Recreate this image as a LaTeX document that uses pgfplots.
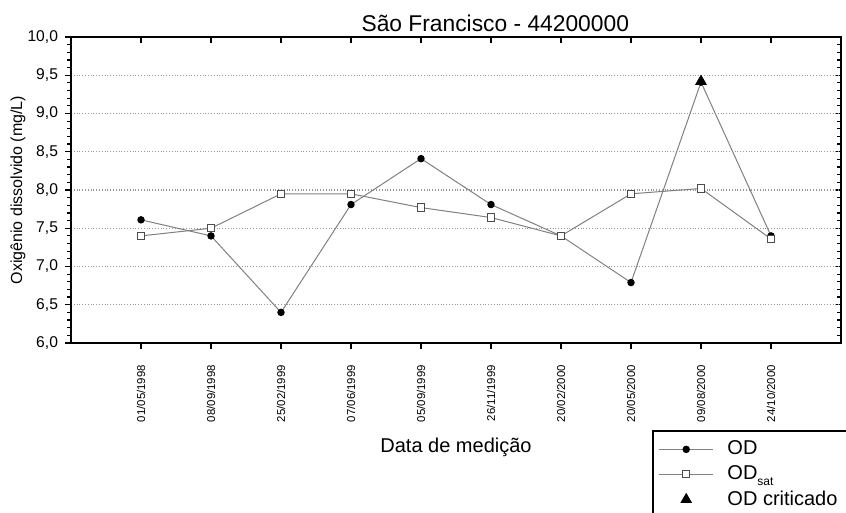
\documentclass[border=0pt]{standalone}
\usepackage{pgfplots}
\pgfplotsset{compat=1.18}
\usepackage{fontspec}
\setmainfont{Liberation Sans}

\begin{document}
\begin{tikzpicture}
\useasboundingbox (0,0) rectangle (423pt,256.5pt);
\pgfplotsset{
  common/.style={
    scale only axis, width=385pt, height=153pt,
    at={(35.5pt,85pt)}, anchor=south west,
    xmin=0, xmax=11, ymin=6, ymax=10,
    xtick={1,...,10}, ytick={6,6.5,...,10}, minor y tick num=4,
    axis line style={line width=0.9pt},
    major tick length=3pt, minor tick length=1.8pt,
    every tick/.style={black, line width=0.6pt},
  }
}
\begin{axis}[common, xtick pos=top, ytick pos=right, tick align=inside,
  xticklabels={}, yticklabels={}]
\end{axis}
\begin{axis}[common, xtick pos=bottom, ytick pos=left, tick align=outside,
  ymajorgrids, grid style={densely dotted, gray!80, line width=0.6pt},
  /pgf/number format/assume math mode=true,
  yticklabel style={/pgf/number format/.cd, use comma, fixed, fixed zerofill, precision=1},
  ticklabel style={font=\fontsize{7.8}{9}\selectfont},
  xticklabels={01/05/1998, 08/09/1998, 25/02/1999, 07/06/1999, 05/09/1999, 26/11/1999, 20/02/2000, 20/05/2000, 09/08/2000, 24/10/2000},
  xticklabel style={rotate=90, anchor=east, xshift=-4.5pt, font=\fontsize{5.7}{7}\selectfont},
  every axis title shift=0pt,
  title={São Francisco - 44200000},
  title style={at={(axis description cs:0.551,1.017)}, anchor=base, font=\fontsize{11.4}{13}\selectfont},
  xlabel={Data de medição},
  xlabel style={at={(axis description cs:0.5,-0.34)}, anchor=center, font=\fontsize{10}{12}\selectfont},
  ylabel={Oxigênio dissolvido (mg/L)},
  ylabel style={at={(axis description cs:-0.069,0.5)}, anchor=center, rotate=0, font=\fontsize{8}{10}\selectfont},
  legend style={at={(axis description cs:0.7545,-0.284)}, anchor=north west, draw=black, line width=1pt,
    font=\fontsize{10}{12}\selectfont, row sep=0pt, inner xsep=3pt, inner ysep=3pt},
  legend cell align=left,
]
\addplot[gray, line width=0.5pt, mark=*, mark size=1.6pt, mark options={black, fill=black, solid},
  legend image code/.code={\draw[mark repeat=2, mark phase=2] plot coordinates {(0cm,0cm) (0.47cm,0cm) (0.94cm,0cm)};}]
coordinates {(1,7.61) (2,7.40) (3,6.40) (4,7.81) (5,8.41) (6,7.81) (7,7.40) (8,6.79) (9,9.41) (10,7.40)};
\addlegendentry{\hspace{5pt}OD}
\addplot[gray, line width=0.5pt, mark=square*, mark size=1.8pt, mark options={draw=black!70, fill=white, solid, line width=0.5pt},
  legend image code/.code={\draw[mark repeat=2, mark phase=2] plot coordinates {(0cm,0cm) (0.47cm,0cm) (0.94cm,0cm)};}]
coordinates {(1,7.40) (2,7.50) (3,7.95) (4,7.95) (5,7.77) (6,7.64) (7,7.40) (8,7.95) (9,8.02) (10,7.36)};
\addlegendentry{\hspace{5pt}OD\raisebox{-0.55ex}{\fontsize{6}{7}\selectfont sat}}
\addplot[only marks, mark=triangle*, mark size=3pt, black, mark options={line width=0.4pt},
  legend image code/.code={\draw plot coordinates {(0.47cm,0cm)};}]
coordinates {(9,9.42)};
\addlegendentry{\hspace{5pt}OD criticado\hspace{8pt}}
\end{axis}
\end{tikzpicture}
\end{document}
